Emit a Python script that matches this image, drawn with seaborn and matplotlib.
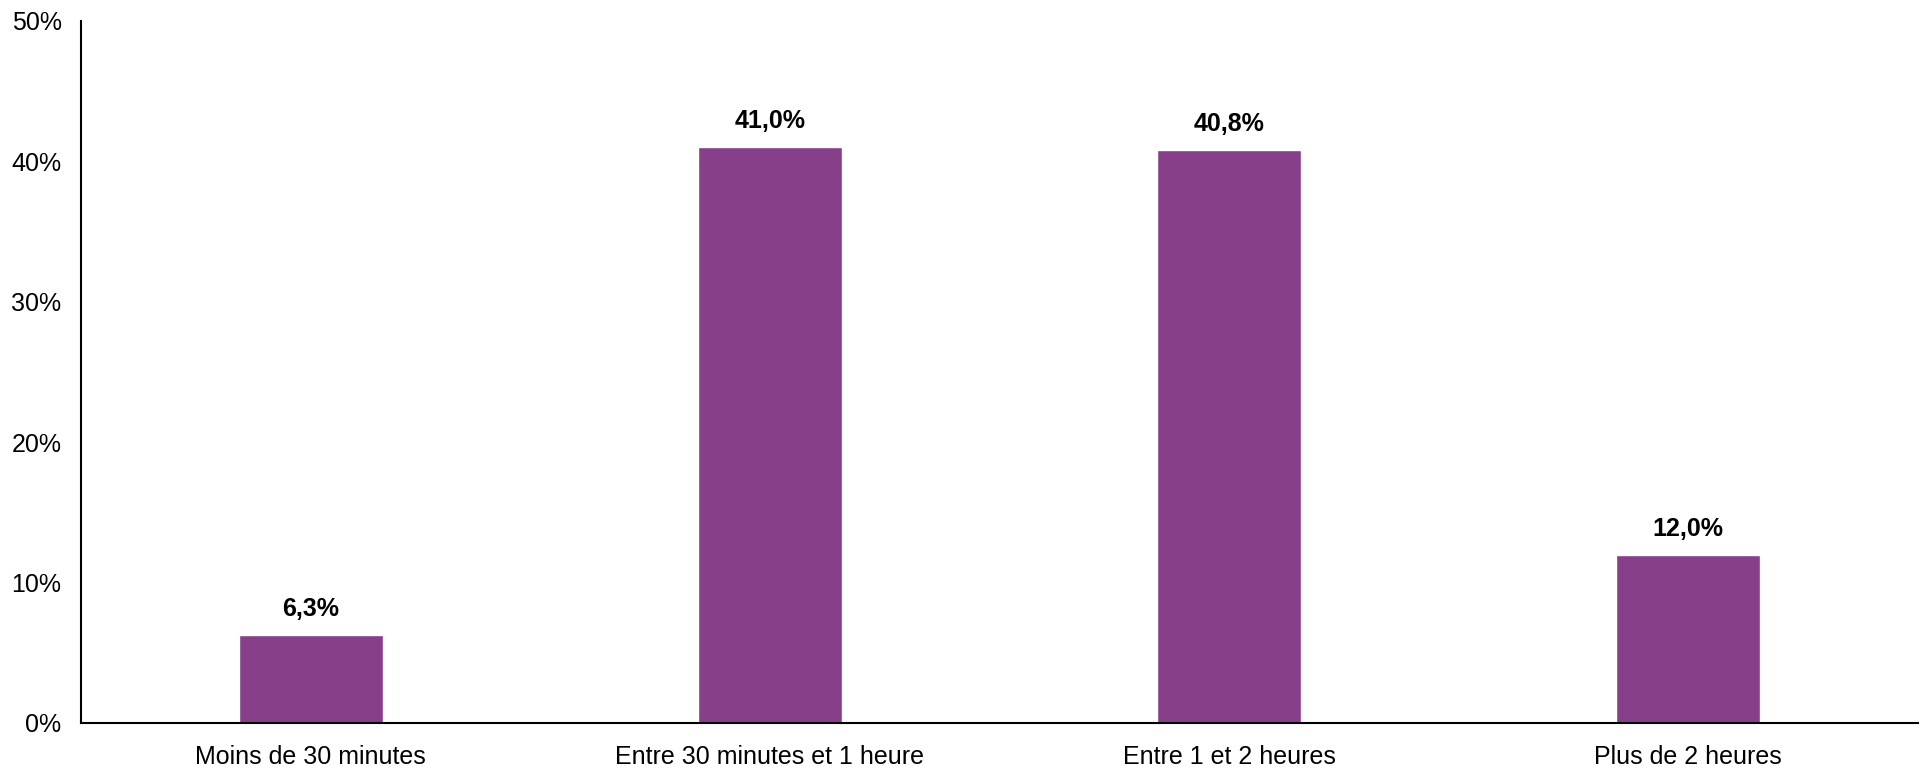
import matplotlib
matplotlib.use("Agg")
import matplotlib.pyplot as plt
import seaborn as sns
import pandas as pd
from matplotlib import font_manager

categories = ["Moins de 30 minutes", "Entre 30 minutes et 1 heure", "Entre 1 et 2 heures", "Plus de 2 heures"]
values = [6.3, 41.0, 40.8, 12.0]
value_labels = ["6,3%", "41,0%", "40,8%", "12,0%"]
yticks = [0, 10, 20, 30, 40, 50]
ytick_labels = ["0%", "10%", "20%", "30%", "40%", "50%"]

sns.set_theme(style="white")
names = {f.name for f in font_manager.fontManager.ttflist}
fam = ["Liberation Sans Narrow", "Liberation Sans", "DejaVu Sans"]
fam = [f for f in fam if f in names] + ["DejaVu Sans"]
plt.rcParams["font.family"] = fam
plt.rcParams["text.color"] = "black"
plt.rcParams["xtick.color"] = "black"
plt.rcParams["ytick.color"] = "black"

df = pd.DataFrame({"cat": categories, "val": values})
fig = plt.figure(figsize=(19.22, 7.68), dpi=100)
ax = fig.add_axes([81/1922, 1 - 723/768, (1918-81)/1922, (723-21)/768])
sns.barplot(data=df, x="cat", y="val", color="#873F8A", width=0.314, saturation=1, ax=ax)
ax.set_xlim(-0.5, 3.5)
ax.set_ylim(0, 50)
ax.set_yticks(yticks)
ax.set_yticklabels(ytick_labels, fontsize=18)
ax.tick_params(axis="x", labelsize=18, length=0, pad=16, labelcolor="black")
ax.tick_params(axis="y", length=0, pad=14, labelcolor="black")
ax.set_xlabel("")
ax.set_ylabel("")
for s in ["top", "right"]:
    ax.spines[s].set_visible(False)
for s in ["left", "bottom"]:
    ax.spines[s].set_color("black")
    ax.spines[s].set_linewidth(1.5)
for i, (v, lab) in enumerate(zip(values, value_labels)):
    ax.annotate(lab, (i, v), xytext=(0, 10), textcoords="offset points",
                ha="center", va="bottom", fontsize=18, fontweight="bold", color="black")
fig.savefig("out.png", dpi=100)
